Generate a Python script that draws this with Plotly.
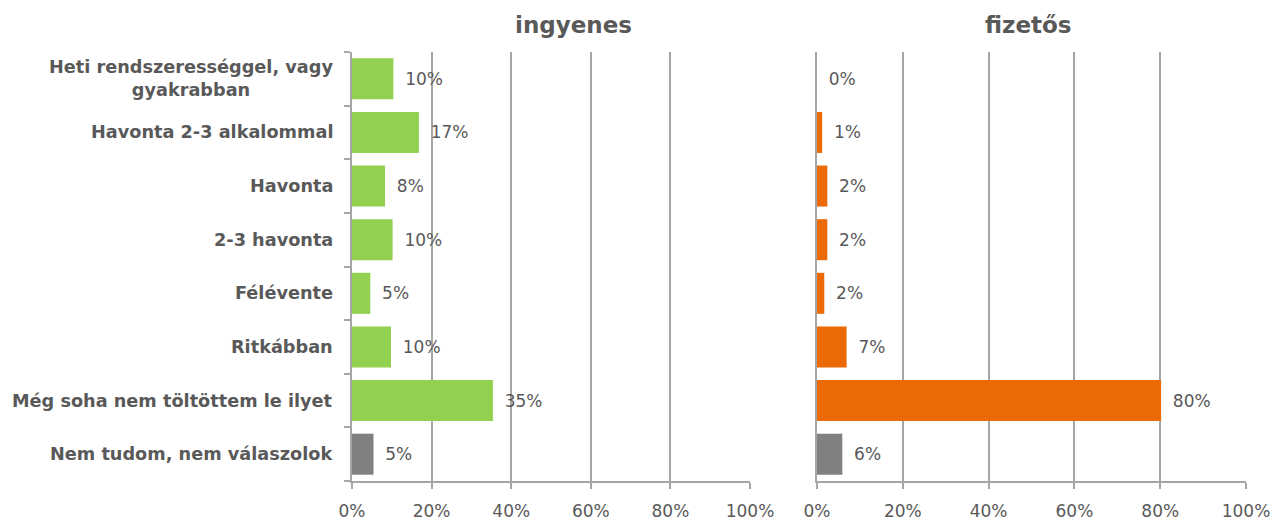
import plotly.graph_objects as go

categories = [
    "Heti rendszerességgel, vagy<br>gyakrabban",
    "Havonta 2-3 alkalommal",
    "Havonta",
    "2-3 havonta",
    "Félévente",
    "Ritkábban",
    "Még soha nem töltöttem le ilyet",
    "Nem tudom, nem válaszolok",
]
ingyenes = [10.4, 16.8, 8.3, 10.2, 4.6, 9.8, 35.4, 5.4]
fizetos = [0.0, 1.2, 2.4, 2.4, 1.7, 6.9, 80.2, 5.9]
panel_titles = ["ingyenes", "fizetős"]
x_ticks = [0, 20, 40, 60, 80, 100]
x_tick_labels = ["0%", "20%", "40%", "60%", "80%", "100%"]

GREEN = "#92D050"
ORANGE = "#EC6A06"
GREY = "#808080"
TEXT = "#595959"
GRID = "#A6A6A6"
FONT = "DejaVu Sans"

left_dom = [352 / 1274, 750 / 1274]
right_dom = [817 / 1274, 1246 / 1274]
y_dom = [1 - 481 / 521, 1 - 52 / 521]


def bar_colors(main, n):
    return [main] * (n - 1) + [GREY]


fig = go.Figure()
for vals, main, xa, ya in [
    (ingyenes, GREEN, "x", "y"),
    (fizetos, ORANGE, "x2", "y2"),
]:
    fig.add_trace(go.Bar(
        x=vals, y=categories, orientation="h",
        xaxis=xa, yaxis=ya,
        marker=dict(color=bar_colors(main, len(vals)), line=dict(width=0)),
        width=0.765,
        texttemplate="\u00a0\u2009%{x:.0f}%",
        textposition="outside",
        textfont=dict(family=FONT, size=17, color=TEXT),
        cliponaxis=False,
        hoverinfo="skip",
    ))

axis_common = dict(
    range=[0, 100], tickvals=x_ticks, ticktext=x_tick_labels,
    showgrid=True, gridcolor=GRID, gridwidth=1.5,
    showline=True, linecolor=GRID, linewidth=1.5,
    ticks="outside", ticklen=6, tickcolor=GRID, tickwidth=1.5,
    ticklabelstandoff=8,
    tickfont=dict(family=FONT, size=17, color=TEXT),
    zeroline=False, fixedrange=True, automargin=False,
)
yaxis_common = dict(
    categoryorder="array", categoryarray=categories[::-1],
    showticklabels=False, showgrid=False,
    showline=True, linecolor=GRID, linewidth=1.5,
    zeroline=False, domain=y_dom, fixedrange=True, automargin=False,
)

fig.update_layout(
    width=1274, height=521,
    margin=dict(l=0, r=0, t=0, b=0, autoexpand=False),
    paper_bgcolor="white", plot_bgcolor="white",
    showlegend=False,
    bargap=0.235,
    xaxis=dict(domain=left_dom, anchor="y", **axis_common),
    xaxis2=dict(domain=right_dom, anchor="y2", **axis_common),
    yaxis=dict(anchor="x", ticks="outside", ticklen=6, tickcolor=GRID,
               tickwidth=1.5, tickson="boundaries", **yaxis_common),
    yaxis2=dict(anchor="x2", ticks="", **yaxis_common),
)

# category labels, lines centred, set against the left panel
for cat in categories:
    fig.add_annotation(
        text=cat, xref="paper", yref="y", x=left_dom[0], y=cat,
        xanchor="right", yanchor="middle", xshift=-17, align="center",
        showarrow=False,
        font=dict(family=FONT, size=17.7, color=TEXT, weight="bold"),
    )

# panel titles
for title, xpos in [(panel_titles[0], 573), (panel_titles[1], 1028)]:
    fig.add_annotation(
        text=title, xref="paper", yref="paper",
        x=xpos / 1274, y=1 - 25 / 521, xanchor="center", yanchor="middle",
        showarrow=False,
        font=dict(family=FONT, size=23, color=TEXT, weight="bold"),
    )

fig.write_html("out.html")
